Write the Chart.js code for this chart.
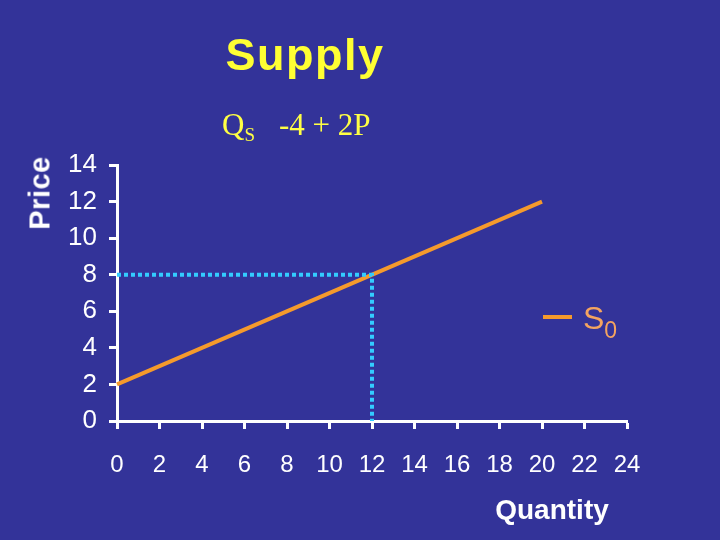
<!DOCTYPE html>
<html>
<head>
<meta charset="utf-8">
<script src="https://cdn.jsdelivr.net/npm/chart.js@4"></script>
<style>
  body { margin: 0; background: #333399; }
  #wrap { position: relative; width: 720px; height: 540px; background: #333399; overflow: hidden; }
  #chart { position: absolute; left: 0; top: 0; }
  .lbl { position: absolute; white-space: nowrap; line-height: 1; font-family: "Liberation Sans", Arial, sans-serif; }
  #title { left: 0; width: 610px; top: 32px; text-align: center; font-size: 45px; font-weight: bold; letter-spacing: 1.5px; color: #ffff33; }
  #eq { left: 222px; top: 109px; font-family: "Liberation Serif", "Times New Roman", serif; font-size: 31px; color: #ffff44; }
  #eq sub { font-size: 19px; vertical-align: -6px; margin-right: 24px; }
  #price { left: 40px; top: 193px; transform: translate(-50%, -50%) rotate(-90deg); font-size: 29px; font-weight: bold; letter-spacing: 0.5px; color: #ffffff; }
  #qty { left: 552px; top: 510px; transform: translate(-50%, -50%); font-size: 28px; font-weight: bold; color: #ffffff; }
  #legLine { position: absolute; left: 543px; top: 315px; width: 29px; height: 4px; background: #f59a2c; }
  #legText { left: 583px; top: 302px; font-size: 32px; color: #f4a460; }
  #legText sub { font-size: 23px; vertical-align: -9px; }
</style>
</head>
<body>
<div id="wrap">
  <canvas id="chart" width="720" height="540"></canvas>
  <div class="lbl" id="title">Supply</div>
  <div class="lbl" id="eq">Q<sub>S</sub>-4 + 2P</div>
  <div class="lbl" id="price">Price</div>
  <div class="lbl" id="qty">Quantity</div>
  <div id="legLine"></div>
  <div class="lbl" id="legText">S<sub>0</sub></div>
</div>
<script>
// supply curve Qs = -4 + 2P  (P on y, Q on x)
const supplyQ = [0, 20];
const supplyP = [2, 12];
// dotted guide to the point Q=12, P=8
const guideQ = [0, 12, 12];
const guideP = [8, 8, 0];
// axis ranges / ticks
const xMin = 0, xMax = 24, xStep = 2;
const yMin = 0, yMax = 14, yStep = 2;

function toPoints(xs, ys) {
  return xs.map((x, i) => ({ x: x, y: ys[i] }));
}

const ctx = document.getElementById('chart').getContext('2d');
new Chart(ctx, {
  type: 'scatter',
  data: {
    datasets: [
      {
        data: toPoints(guideQ, guideP),
        showLine: true,
        borderColor: '#33ccff',
        borderWidth: 4,
        borderDash: [4, 3],
        pointRadius: 0,
        fill: false
      },
      {
        data: toPoints(supplyQ, supplyP),
        showLine: true,
        borderColor: '#f59a2c',
        borderWidth: 4,
        pointRadius: 0,
        fill: false
      }
    ]
  },
  options: {
    responsive: false,
    animation: false,
    clip: false,
    layout: { padding: { left: 0, top: 165, right: 93, bottom: 0 } },
    plugins: {
      legend: { display: false },
      tooltip: { enabled: false },
      title: { display: false }
    },
    scales: {
      x: {
        type: 'linear',
        min: xMin,
        max: xMax,
        ticks: { stepSize: xStep, color: '#ffffff', font: { family: 'Liberation Sans', size: 24 }, padding: 22, maxRotation: 0, autoSkip: false },
        grid: { drawOnChartArea: false, drawTicks: true, tickLength: 8, tickWidth: 3, tickColor: '#ffffff' },
        border: { display: true, color: '#ffffff', width: 3 },
        afterFit: s => { s.height = 119; }
      },
      y: {
        type: 'linear',
        min: yMin,
        max: yMax,
        ticks: { stepSize: yStep, color: '#ffffff', font: { family: 'Liberation Sans', size: 26 }, padding: 12, autoSkip: false },
        grid: { drawOnChartArea: false, drawTicks: true, tickLength: 8, tickWidth: 3, tickColor: '#ffffff' },
        border: { display: true, color: '#ffffff', width: 3 },
        afterFit: s => { s.width = 117; }
      }
    }
  }
});
</script>
</body>
</html>
